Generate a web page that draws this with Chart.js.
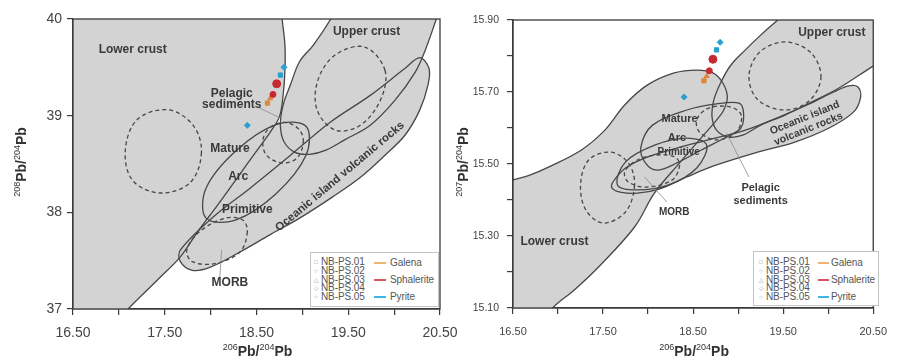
<!DOCTYPE html>
<html>
<head>
<meta charset="utf-8">
<script src="https://cdn.jsdelivr.net/npm/chart.js@4.4.1/dist/chart.umd.min.js"></script>
<style>
  body { margin: 0; background: #fff; font-family: "Liberation Sans", Arial, sans-serif; }
  #wrap { position: relative; width: 898px; height: 361px; overflow: hidden; }
  #c208 { position: absolute; left: 0; top: 0; }
  #c207 { position: absolute; left: 449px; top: 0; }
  .legend { position: absolute; background: #fff; border: 1px solid #c4c4c4; box-sizing: border-box; color: #555; font-size: 10px; letter-spacing: -0.1px; }
  .legend div { position: absolute; height: 10px; line-height: 10px; white-space: nowrap; }
  .legend .mk { font-size: 6px; color: #8a8a8a; }
  .legend .ln { height: 0; border-top: 2px solid; }
</style>
</head>
<body>
<div id="wrap">
  <canvas id="c208" width="470" height="361"></canvas>
  <canvas id="c207" width="449" height="361"></canvas>
  <div class="legend" id="leg208" style="left:310px; top:252px; width:129px; height:55px;"></div>
  <div class="legend" id="leg207" style="left:753px; top:251px; width:126px; height:55px;"></div>
</div>
<script>
const GRAY = '#d3d3d3';
const LINE = '#474747';
const TEXT = '#3a3a3a';

// measured samples: 206Pb/204Pb, 208Pb/204Pb, 207Pb/204Pb
const galena206 = [18.62, 18.65];
const galena208 = [39.13, 39.18];
const galena207 = [15.731, 15.744];
const galenaStyle = ['rect', 'triangle'];

const sphal206 = [18.68, 18.72];
const sphal208 = [39.22, 39.33];
const sphal207 = [15.759, 15.791];
const sphalStyle = ['circle', 'circle'];

const pyrite206 = [18.40, 18.76, 18.80];
const pyrite208 = [38.90, 39.42, 39.50];
const pyrite207 = [15.686, 15.817, 15.838];
const pyriteStyle = ['rectRot', 'rect', 'rectRot'];

// reference fields, 208Pb/204Pb vs 206Pb/204Pb
const lowerCrust208 = [[18.76, 40.3], [18.78, 40], [18.81, 39.73], [18.81, 39.47], [18.79, 39.21], [18.75, 38.99], [18.65, 38.83], [18.49, 38.62], [18.30, 38.37], [18.08, 38.08], [17.86, 37.80], [17.67, 37.54], [17.42, 37.30], [17.10, 37.0], [16.90, 36.8]];
const upperCrust208 = [[19.45, 40.25], [19.31, 40], [19.12, 39.73], [18.97, 39.56], [18.87, 39.32], [18.79, 39.11], [18.76, 38.90], [18.80, 38.73], [18.92, 38.62], [19.08, 38.60], [19.25, 38.64], [19.46, 38.75], [19.74, 38.90], [20.01, 39.16], [20.23, 39.45], [20.34, 39.68], [20.46, 40], [20.55, 40.25]];
const oiv208 = [[17.67, 37.61], [18.05, 37.97], [18.43, 38.25], [18.87, 38.59], [19.30, 38.93], [19.74, 39.21], [20.12, 39.49], [20.28, 39.60], [20.38, 39.49], [20.37, 39.32], [20.28, 39.06], [20.12, 38.80], [19.90, 38.59], [19.63, 38.36], [19.33, 38.16], [18.97, 37.94], [18.65, 37.77], [18.32, 37.59], [17.99, 37.43], [17.80, 37.40], [17.67, 37.49]];
const arc208 = [[19.04, 38.89], [19.04, 38.59], [18.71, 38.19], [18.27, 37.92], [17.95, 37.94], [17.95, 38.25], [18.28, 38.64], [18.72, 38.91]];
const dashA208 = [[17.90, 38.62], [17.78, 38.31], [17.45, 38.20], [17.15, 38.33], [17.07, 38.64], [17.20, 38.96], [17.54, 39.06], [17.81, 38.90]];
const dashB208 = [[19.90, 39.47], [19.85, 39.16], [19.63, 38.90], [19.36, 38.85], [19.16, 39.06], [19.17, 39.37], [19.36, 39.63], [19.68, 39.71]];
const dashC208 = [[19.01, 38.75], [18.95, 38.57], [18.79, 38.51], [18.61, 38.59], [18.57, 38.75], [18.65, 38.88], [18.81, 38.93], [18.95, 38.87]];
const morb208 = [[18.40, 37.80], [18.32, 37.59], [18.05, 37.47], [17.80, 37.49], [17.74, 37.61], [17.88, 37.80], [18.16, 37.94], [18.35, 37.92]];
const lead208 = [[[18.51, 39.09], [18.75, 38.98]], [[18.10, 37.33], [18.12, 37.61]]];

// reference fields, 207Pb/204Pb vs 206Pb/204Pb
const lowerCrust207 = [[16.3, 15.445], [16.5, 15.456], [16.685, 15.469], [16.90, 15.492], [17.26, 15.539], [17.52, 15.594], [17.74, 15.664], [17.99, 15.719], [18.29, 15.753], [18.54, 15.761], [18.72, 15.753], [18.83, 15.725], [18.88, 15.686], [18.84, 15.650], [18.76, 15.622], [18.57, 15.567], [18.35, 15.503], [18.07, 15.419], [17.85, 15.325], [17.45, 15.214], [17.18, 15.150], [16.94, 15.10], [16.80, 15.05]];
const upperCrust207 = [[19.55, 15.924], [19.44, 15.90], [19.25, 15.858], [19.08, 15.817], [18.92, 15.775], [18.81, 15.728], [18.73, 15.678], [18.71, 15.631], [18.76, 15.594], [18.89, 15.575], [19.06, 15.581], [19.25, 15.608], [19.52, 15.636], [19.79, 15.669], [20.12, 15.711], [20.50, 15.772], [20.7, 15.80]];
const oiv207 = [[17.61, 15.45], [17.75, 15.489], [17.99, 15.519], [18.32, 15.544], [18.67, 15.567], [19.08, 15.594], [19.46, 15.631], [19.79, 15.667], [20.06, 15.700], [20.23, 15.717], [20.33, 15.714], [20.36, 15.686], [20.28, 15.644], [20.01, 15.600], [19.63, 15.561], [19.19, 15.531], [18.72, 15.494], [18.43, 15.464], [18.13, 15.431], [17.88, 15.419], [17.69, 15.422], [17.60, 15.433]];
const mature207 = [[17.92, 15.547], [18.05, 15.608], [18.43, 15.65], [18.76, 15.667], [19.01, 15.669], [19.06, 15.642], [19.03, 15.60], [18.87, 15.575], [18.59, 15.539], [18.32, 15.503], [18.10, 15.483], [17.97, 15.503]];
const primitive207 = [[18.65, 15.553], [18.54, 15.489], [18.23, 15.442], [17.88, 15.428], [17.66, 15.442], [17.75, 15.506], [18.08, 15.553], [18.43, 15.572]];
const dashA207 = [[17.85, 15.442], [17.75, 15.367], [17.50, 15.336], [17.31, 15.372], [17.25, 15.442], [17.34, 15.511], [17.58, 15.533], [17.78, 15.503]];
const dashB207 = [[19.92, 15.744], [19.80, 15.678], [19.52, 15.65], [19.22, 15.678], [19.12, 15.744], [19.24, 15.811], [19.52, 15.839], [19.80, 15.811]];
const dashC207 = [[19.04, 15.628], [18.97, 15.586], [18.76, 15.567], [18.57, 15.589], [18.54, 15.622], [18.65, 15.653], [18.84, 15.661], [18.99, 15.65]];
const morb207 = [[18.35, 15.497], [18.27, 15.456], [17.99, 15.436], [17.78, 15.45], [17.74, 15.478], [17.88, 15.511], [18.10, 15.525], [18.30, 15.519]];
const lead207 = [[[18.21, 15.394], [17.96, 15.464]], [[19.12, 15.464], [18.87, 15.586]]];

// field names: text, x, y, size, rotation
const notes208 = [
  ['Lower crust', 17.15, 39.68, 12, 0],
  ['Upper crust', 19.70, 39.87, 12, 0],
  ['Pelagic', 18.23, 39.23, 12, 0],
  ['sediments', 18.23, 39.11, 12, 0],
  ['Mature', 18.21, 38.66, 12, 0],
  ['Arc', 18.30, 38.37, 12, 0],
  ['Primitive', 18.40, 38.03, 12, 0],
  ['MORB', 18.21, 37.27, 12, 0],
  ['Oceanic island volcanic rocks', 19.41, 38.37, 11.5, -40]
];
const notes207 = [
  ['Upper crust', 20.04, 15.864, 12, 0],
  ['Lower crust', 16.96, 15.283, 12, 0],
  ['Mature', 18.35, 15.625, 11, 0],
  ['Arc', 18.32, 15.572, 11, 0],
  ['Primitive', 18.34, 15.533, 10, 0],
  ['MORB', 18.29, 15.367, 10, 0],
  ['Pelagic', 19.25, 15.433, 11, 0],
  ['sediments', 19.25, 15.397, 11, 0],
  ['Oceanic island', 19.74, 15.628, 10.5, -22],
  ['volcanic rocks', 19.78, 15.597, 10.5, -22]
];

const sampleNames = ['NB-PS.01', 'NB-PS.02', 'NB-PS.03', 'NB-PS.04', 'NB-PS.05'];
const sampleGlyphs = ['\u25A1', '\u25CB', '\u25B3', '\u25C7', '\u25CB'];
const mineralNames = ['Galena', 'Sphalerite', 'Pyrite'];
const mineralColors = ['#e0873a', '#c62a2f', '#2b9ed3'];
const legendColors = ['#eeb272', '#d65460', '#3fb6e0'];

Chart.defaults.font.family = '"Liberation Sans", Arial, sans-serif';
const FONT = '"Liberation Sans", Arial, sans-serif';

function xy(arr) { return arr.map(p => ({x: p[0], y: p[1]})); }
function wrap(arr) { return xy([arr[arr.length - 1], ...arr, arr[0], arr[1]]); }

function area(arr, closed) {
  return { data: closed ? wrap(arr) : xy(arr), showLine: true, fill: 'shape', backgroundColor: GRAY,
    borderWidth: 0, pointRadius: 0, tension: 0.35, order: 5 };
}

function outline(arr, closed, dash) {
  const data = closed ? wrap(arr) : xy(arr);
  const last = data.length - 1;
  const ds = { data, showLine: true, fill: false, borderColor: LINE, borderWidth: 1.3,
    borderDash: dash ? [4, 3] : [], pointRadius: 0, tension: 0.35, order: 3 };
  if (closed) ds.segment = { borderColor: c => (c.p0DataIndex === 0 || c.p1DataIndex === last) ? 'rgba(0,0,0,0)' : undefined };
  return ds;
}

function leader(seg) {
  return { data: xy(seg), showLine: true, fill: false, borderColor: '#8a8a8a', borderWidth: 0.8, pointRadius: 0, tension: 0, order: 2 };
}

function mineral(xs, ys, styles, color, big) {
  return { data: xs.map((x, i) => ({x, y: ys[i]})), showLine: false, pointStyle: styles,
    pointRadius: xs.map((x, i) => i === big ? 4 : 3), backgroundColor: color, borderColor: color, borderWidth: 1, order: 0 };
}

// isotope label with raised mass numbers, e.g. 206Pb/204Pb
function isoLabel(ctx, cx, cy, rot, m1, m2) {
  const parts = [[m1, true], ['Pb/', false], [m2, true], ['Pb', false]];
  const supFont = '9px ' + FONT, mainFont = 'bold 14px ' + FONT;
  let total = 0;
  parts.forEach(p => { ctx.font = p[1] ? supFont : mainFont; p.push(ctx.measureText(p[0]).width); total += p[2]; });
  ctx.save();
  ctx.translate(cx, cy);
  if (rot) ctx.rotate(rot);
  ctx.fillStyle = '#333';
  ctx.textBaseline = 'alphabetic';
  ctx.textAlign = 'left';
  let x = -total / 2;
  parts.forEach(p => {
    ctx.font = p[1] ? supFont : mainFont;
    ctx.fillText(p[0], x, p[1] ? -1.5 : 5);
    x += p[2];
  });
  ctx.restore();
}

const axisTitles = {
  id: 'axisTitles',
  afterDraw(chart, args, opts) {
    const {ctx, chartArea: a} = chart;
    isoLabel(ctx, (a.left + a.right) / 2 + 1, 351, 0, '206', '204');
    isoLabel(ctx, opts.yX, 162, -Math.PI / 2, opts.m, '204');
  }
};

const fieldText = {
  id: 'fieldText',
  afterDatasetsDraw(chart, args, opts) {
    const {ctx, scales: {x, y}} = chart;
    ctx.save();
    ctx.fillStyle = TEXT;
    ctx.textAlign = 'center';
    ctx.textBaseline = 'middle';
    opts.items.forEach(([text, vx, vy, size, rot]) => {
      ctx.save();
      ctx.translate(x.getPixelForValue(vx), y.getPixelForValue(vy));
      if (rot) ctx.rotate(rot * Math.PI / 180);
      ctx.font = 'bold ' + size + 'px ' + FONT;
      ctx.fillText(text, 0, 0);
      ctx.restore();
    });
    ctx.restore();
  }
};

const frame = {
  id: 'frame',
  afterDraw(chart) {
    const {ctx, chartArea: a} = chart;
    ctx.save();
    ctx.strokeStyle = '#3a3a3a';
    ctx.lineWidth = 1.3;
    ctx.strokeRect(a.left, a.top, a.right - a.left, a.bottom - a.top);
    ctx.restore();
  }
};

function makeChart(id, o) {
  const datasets = [
    mineral(pyrite206, o.pyrite, pyriteStyle, mineralColors[2], -1),
    mineral(sphal206, o.sphal, sphalStyle, mineralColors[1], 1),
    mineral(galena206, o.galena, galenaStyle, mineralColors[0], -1),
    ...o.leads.map(leader),
    ...o.open.map(a => outline(a, false, false)),
    ...o.closed.map(a => outline(a, true, false)),
    ...o.dashed.map(a => outline(a, true, true)),
    ...o.openFill.map(a => area(a, false)),
    ...o.closed.map(a => area(a, true))
  ];
  return new Chart(document.getElementById(id), {
    type: 'scatter',
    data: { datasets },
    options: {
      responsive: false,
      animation: false,
      events: [],
      layout: { padding: { left: 0, right: o.padRight, top: o.padTop, bottom: 0 } },
      plugins: {
        legend: { display: false },
        tooltip: { enabled: false },
        filler: { drawTime: 'beforeDatasetsDraw' },
        fieldText: { items: o.notes },
        axisTitles: { yX: o.yTitleX, m: o.mass }
      },
      scales: {
        x: {
          type: 'linear', min: 16.5, max: 20.5,
          afterFit: s => { s.height = o.xHeight; },
          border: { display: true, color: '#3a3a3a', width: 1.3 },
          grid: { drawOnChartArea: false, drawTicks: true, tickLength: 6, color: '#3a3a3a', lineWidth: 1.2 },
          ticks: { stepSize: 0.5, autoSkip: false, maxRotation: 0, padding: o.xPad, color: '#444', font: { size: o.xFont },
            callback: v => Math.round(v * 2) % 2 === 1 ? v.toFixed(2) : '' }
        },
        y: {
          type: 'linear', min: o.yMin, max: o.yMax,
          afterFit: s => { s.width = o.yWidth; },
          border: { display: true, color: '#3a3a3a', width: 1.3 },
          grid: { drawOnChartArea: false, drawTicks: true, tickLength: 6, color: '#3a3a3a', lineWidth: 1.2 },
          ticks: { stepSize: o.yStep, autoSkip: false, padding: o.yPad, color: '#444', font: { size: o.yFont }, callback: o.yLabel }
        }
      }
    },
    plugins: [fieldText, frame, axisTitles]
  });
}

makeChart('c208', {
  galena: galena208, sphal: sphal208, pyrite: pyrite208,
  leads: lead208,
  open: [lowerCrust208, upperCrust208],
  openFill: [[[16.3, 40.3], ...lowerCrust208, [16.3, 36.8]], [...upperCrust208]],
  closed: [oiv208, arc208],
  dashed: [dashA208, dashB208, dashC208, morb208],
  notes: notes208,
  yMin: 37, yMax: 40, yStep: 1, yLabel: v => String(v),
  mass: '208', yTitleX: 21,
  padRight: 30, padTop: 19, xHeight: 52, yWidth: 73,
  xPad: 10, yPad: 5, xFont: 14, yFont: 14
});

makeChart('c207', {
  galena: galena207, sphal: sphal207, pyrite: pyrite207,
  leads: lead207,
  open: [lowerCrust207, upperCrust207],
  openFill: [[...lowerCrust207, [16.3, 15.05]], [...upperCrust207, [20.7, 15.95], [19.55, 15.95]]],
  closed: [oiv207, mature207, primitive207],
  dashed: [dashA207, dashB207, dashC207, morb207],
  notes: notes207,
  yMin: 15.1, yMax: 15.9, yStep: 0.1, yLabel: v => Math.round(v * 10) % 2 === 1 ? v.toFixed(2) : '',
  mass: '207', yTitleX: 14,
  padRight: 18, padTop: 20, xHeight: 53, yWidth: 64,
  xPad: 11, yPad: 8, xFont: 11, yFont: 10.5
});

function buildLegend(id, rows, minerRows, cols) {
  const box = document.getElementById(id);
  sampleNames.forEach((name, i) => {
    const mk = document.createElement('div');
    mk.className = 'mk';
    mk.style.left = cols.mk + 'px';
    mk.style.top = (rows[i] - 5) + 'px';
    mk.textContent = sampleGlyphs[i];
    box.appendChild(mk);
    const t = document.createElement('div');
    t.style.left = cols.txt + 'px';
    t.style.top = (rows[i] - 5) + 'px';
    t.textContent = name;
    box.appendChild(t);
  });
  mineralNames.forEach((name, i) => {
    const ln = document.createElement('div');
    ln.className = 'ln';
    ln.style.left = cols.line + 'px';
    ln.style.width = cols.lineW + 'px';
    ln.style.top = (minerRows[i] - 1) + 'px';
    ln.style.borderTopColor = legendColors[i];
    box.appendChild(ln);
    const t = document.createElement('div');
    t.style.left = cols.mtxt + 'px';
    t.style.top = (minerRows[i] - 5) + 'px';
    t.textContent = name;
    box.appendChild(t);
  });
}

buildLegend('leg208', [9, 17.5, 26.5, 35, 44], [9.5, 26.5, 43.5], { mk: 3, txt: 10, line: 63, lineW: 12, mtxt: 79 });
buildLegend('leg207', [10, 18.5, 27.5, 36, 45], [10.5, 27.5, 44.5], { mk: 5, txt: 12, line: 64, lineW: 11, mtxt: 77 });
</script>
</body>
</html>
